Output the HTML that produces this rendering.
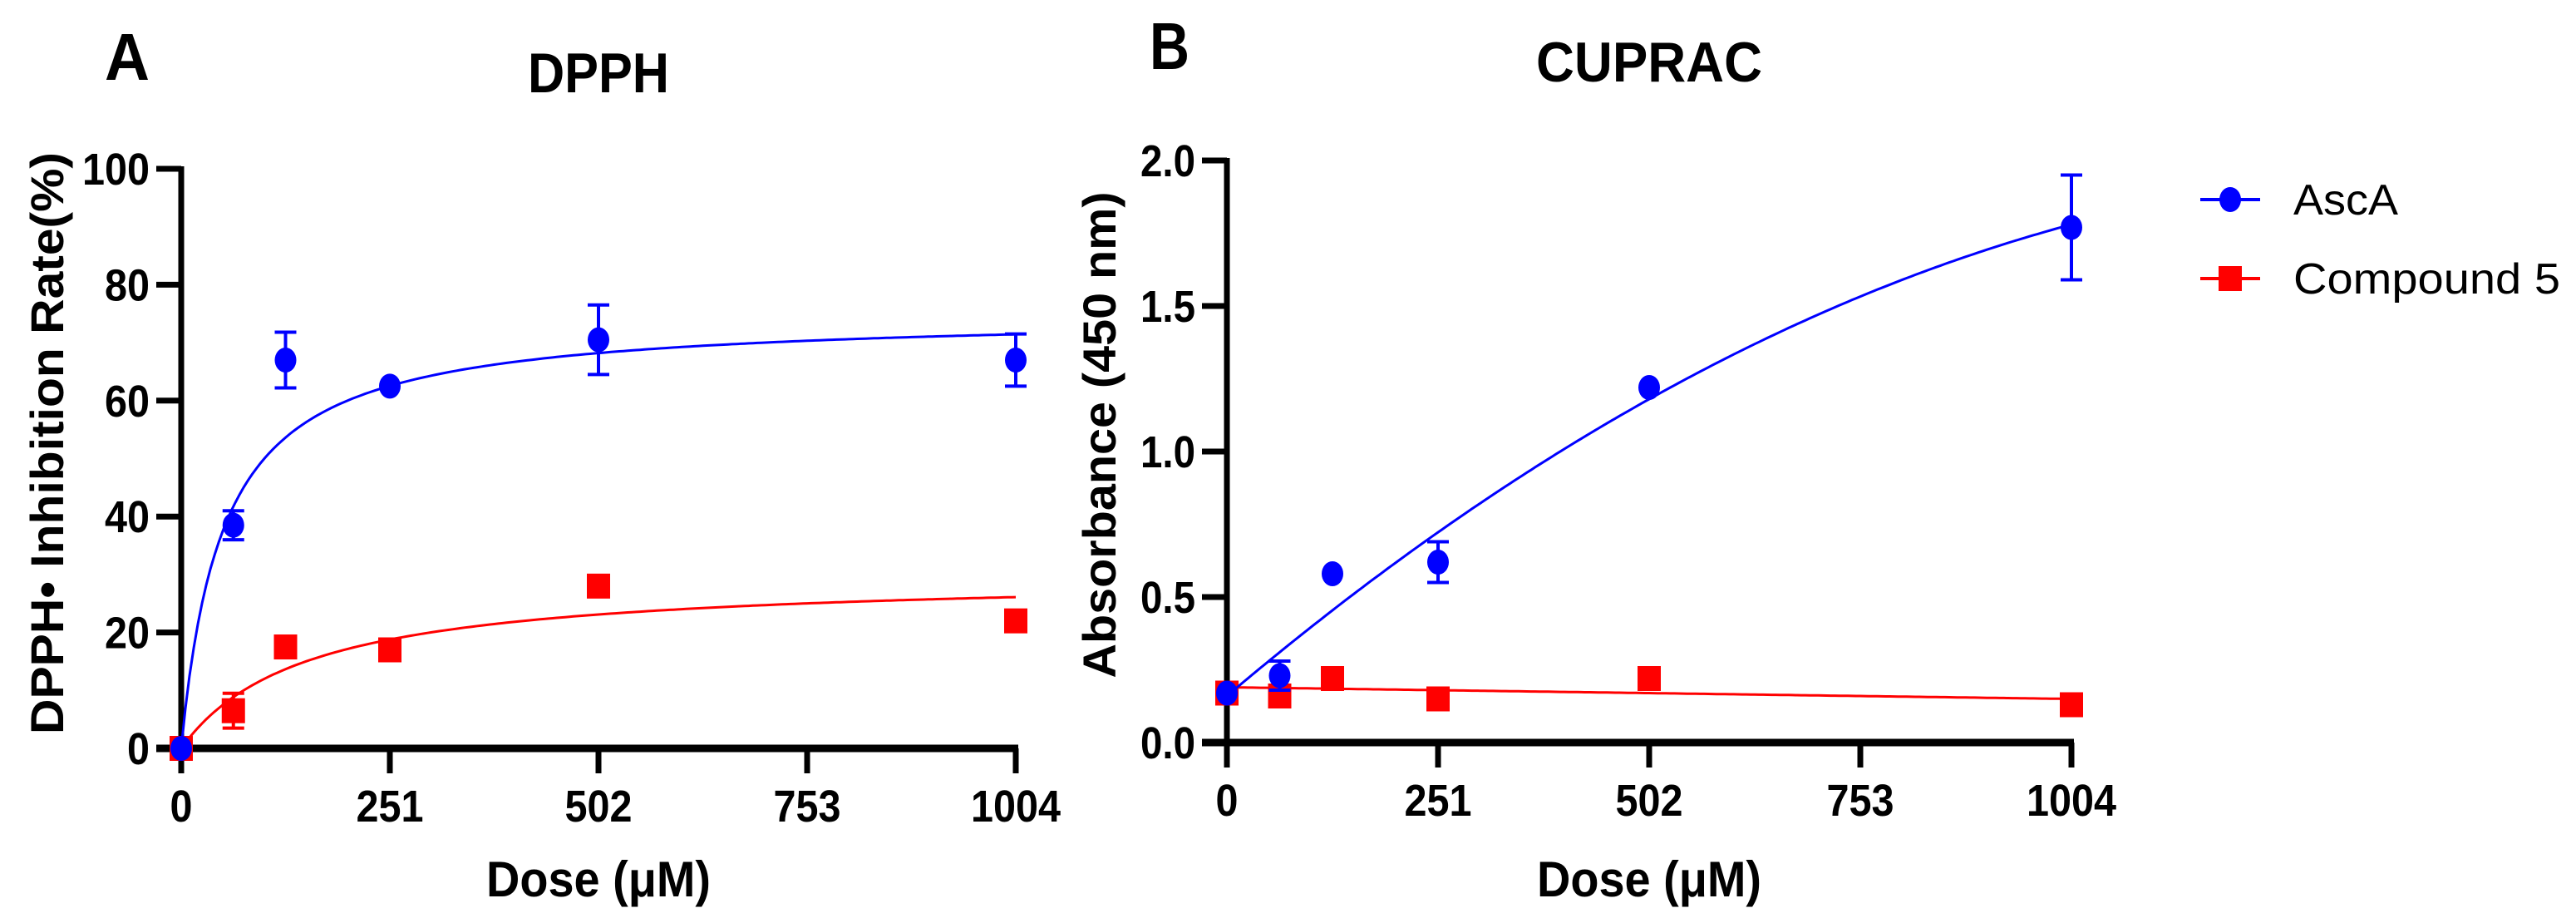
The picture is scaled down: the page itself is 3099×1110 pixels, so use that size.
<!DOCTYPE html>
<html><head><meta charset="utf-8"><style>
html,body{margin:0;padding:0;background:#fff;}
svg{display:block;}
text{font-family:"Liberation Sans",sans-serif;}
.tk{font-family:"Liberation Sans Narrow","Liberation Sans",sans-serif;font-weight:bold;font-size:54px;}
</style></head><body>
<svg id="fig" width="3099" height="1110" viewBox="0 0 3099 1110" xmlns="http://www.w3.org/2000/svg">
<text x="126" y="96" font-size="80" font-weight="bold" textLength="54" lengthAdjust="spacingAndGlyphs">A</text>
<text x="635" y="111" font-size="68" font-weight="bold" textLength="170" lengthAdjust="spacingAndGlyphs">DPPH</text>
<text x="1383" y="83" font-size="80" font-weight="bold" textLength="48" lengthAdjust="spacingAndGlyphs">B</text>
<text x="1848" y="98" font-size="68" font-weight="bold" textLength="272" lengthAdjust="spacingAndGlyphs">CUPRAC</text>
<text transform="translate(76,533) rotate(-90)" font-size="56" font-weight="bold" text-anchor="middle" textLength="700" lengthAdjust="spacingAndGlyphs">DPPH• Inhibition  Rate(%)</text>
<text transform="translate(1342,523) rotate(-90)" font-size="56" font-weight="bold" text-anchor="middle" textLength="585" lengthAdjust="spacingAndGlyphs">Absorbance (450 nm)</text>
<text class="tk" x="720" y="1078" text-anchor="middle" style="font-size:60px" textLength="270" lengthAdjust="spacingAndGlyphs">Dose (μM)</text>
<text class="tk" x="1984" y="1078" text-anchor="middle" style="font-size:60px" textLength="270" lengthAdjust="spacingAndGlyphs">Dose (μM)</text>
<g>
<line x1="2647" y1="240" x2="2719" y2="240" stroke="#0000ff" stroke-width="4"/>
<ellipse cx="2683" cy="240" rx="13" ry="15" fill="#0000ff"/>
<text x="2759" y="258" font-size="52" textLength="126" lengthAdjust="spacingAndGlyphs">AscA</text>
<line x1="2647" y1="335" x2="2719" y2="335" stroke="#ff0000" stroke-width="4"/>
<rect x="2669" y="320" width="28" height="30" fill="#ff0000"/>
<text x="2759" y="353" font-size="52" textLength="321" lengthAdjust="spacingAndGlyphs">Compound 5</text>
</g>
</svg>
<script>
const doses = [0, 62.75, 125.5, 251, 502, 1004];
const xTicks = [0, 251, 502, 753, 1004];
const aTickVals = [0, 20, 40, 60, 80, 100];
const aTickLabels = ["0", "20", "40", "60", "80", "100"];
const bTickVals = [0, 0.5, 1.0, 1.5, 2.0];
const bTickLabels = ["0.0", "0.5", "1.0", "1.5", "2.0"];
const aAscA = [0, 38.5, 67, 62.5, 70.5, 67];
const aAscAErr = [0, 2.5, 4.8, 0, 6, 4.5];
const aComp5 = [0, 6.5, 17.5, 17, 28, 22];
const aComp5Err = [0, 3, 0, 0, 0, 0];
const aAscAFit = [75, 50];
const aComp5Fit = [30, 150];
const bAscA = [0.17, 0.23, 0.58, 0.62, 1.22, 1.77];
const bAscAErr = [0, 0.05, 0, 0.07, 0, 0.18];
const bComp5 = [0.17, 0.16, 0.22, 0.15, 0.22, 0.13];
const bComp5Err = [0, 0, 0, 0, 0, 0];
const bAscAFit = [0.16, 0.00245, -8.33e-7];
const bComp5Fit = [0.19, -0.00004];

const NS = "http://www.w3.org/2000/svg";
const svg = document.getElementById("fig");
function mk(tag, attrs, parent) {
  const e = document.createElementNS(NS, tag);
  for (const k in attrs) e.setAttribute(k, attrs[k]);
  (parent || svg).appendChild(e);
  return e;
}
function labelLen(s) {
  let w = 0;
  for (const ch of s) w += (ch === "." ? 12 : 27);
  return w;
}
function panel(P) {
  const g = mk("g", {});
  
  
  const xs = v => P.x0 + v / 1004 * (P.x1 - P.x0);
  const ys = v => P.y0 - (v - P.ymin) / (P.ymax - P.ymin) * (P.y0 - P.y1);
  const sw = 7;
  const ya = mk("line", {x1: P.x0, y1: P.y1 - 3, x2: P.x0, y2: P.y0 + 30, stroke: "#000", "stroke-width": sw}, g);
  
  
  const xa = mk("line", {x1: P.x0 - 30, y1: P.y0, x2: P.x1 + 3, y2: P.y0, stroke: "#000", "stroke-width": sw + 2}, g);
  
  
  P.yt.forEach((v, i) => {
    const y = ys(v);
    const t = mk("line", {x1: P.x0 - 30, y1: y, x2: P.x0, y2: y, stroke: "#000", "stroke-width": sw}, g);
    
    
    const l = mk("text", {x: P.x0 - 38, y: y + 19, "text-anchor": "end", class: "tk", textLength: labelLen(P.yl[i]), lengthAdjust: "spacingAndGlyphs"}, g);
    l.textContent = P.yl[i];
    
    
  });
  xTicks.forEach(v => {
    const x = xs(v);
    const t = mk("line", {x1: x, y1: P.y0, x2: x, y2: P.y0 + 30, stroke: "#000", "stroke-width": sw}, g);
    
    
    const s = String(v);
    const l = mk("text", {x: x, y: P.y0 + 88, "text-anchor": "middle", class: "tk", textLength: labelLen(s), lengthAdjust: "spacingAndGlyphs"}, g);
    l.textContent = s;
    
    
  });
  P.series.forEach(S => {
    let d = "";
    for (let i = 0; i <= 200; i++) {
      const xv = 1004 * i / 200;
      d += (i ? "L" : "M") + xs(xv).toFixed(1) + "," + ys(S.fit(xv)).toFixed(1);
    }
    const c = mk("path", {d: d, fill: "none", stroke: S.color, "stroke-width": 3}, g);
    
    
    doses.forEach((dv, i) => {
      const x = xs(dv), y = ys(S.vals[i]);
      const e = S.err[i];
      if (e > 0) {
        const top = ys(S.vals[i] + e), bot = ys(S.vals[i] - e);
        const eb = mk("path", {d: `M${x},${top}L${x},${bot}M${x-13},${top}L${x+13},${top}M${x-13},${bot}L${x+13},${bot}`, stroke: S.color, "stroke-width": 4, fill: "none"}, g);
        
        
      }
      let m;
      if (S.shape === "circle") m = mk("ellipse", {cx: x, cy: y, rx: 13, ry: 15, fill: S.color}, g);
      else m = mk("rect", {x: x - 14, y: y - 15, width: 28, height: 30, fill: S.color}, g);
      
      
    });
  });
}
panel({name: "panel-a-dpph", x0: 218, x1: 1222, y0: 900, y1: 203, ymin: 0, ymax: 100, yt: aTickVals, yl: aTickLabels,
  series: [
    {key: "compound5", color: "#ff0000", shape: "square", vals: aComp5, err: aComp5Err, fit: x => aComp5Fit[0] * x / (aComp5Fit[1] + x)},
    {key: "asca", color: "#0000ff", shape: "circle", vals: aAscA, err: aAscAErr, fit: x => aAscAFit[0] * x / (aAscAFit[1] + x)}
  ]});
panel({name: "panel-b-cuprac", x0: 1476, x1: 2492, y0: 893, y1: 193, ymin: 0, ymax: 2, yt: bTickVals, yl: bTickLabels,
  series: [
    {key: "compound5", color: "#ff0000", shape: "square", vals: bComp5, err: bComp5Err, fit: x => bComp5Fit[0] + bComp5Fit[1] * x},
    {key: "asca", color: "#0000ff", shape: "circle", vals: bAscA, err: bAscAErr, fit: x => bAscAFit[0] + bAscAFit[1] * x + bAscAFit[2] * x * x}
  ]});
</script>
</body></html>
